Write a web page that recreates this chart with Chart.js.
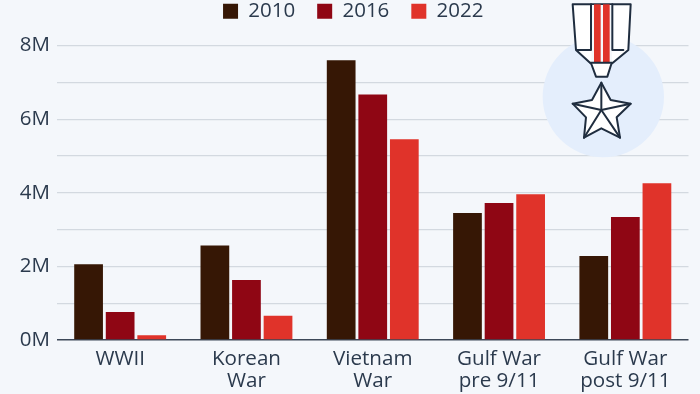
<!DOCTYPE html>
<html>
<head>
<meta charset="utf-8">
<script src="https://cdn.jsdelivr.net/npm/chart.js@4"></script>
<style>
  html, body { margin: 0; padding: 0; background: #f4f7fb; }
  #wrap { width: 700px; height: 394px; }
</style>
</head>
<body>
<div id="wrap"><canvas id="chart" width="700" height="394"></canvas></div>
<script>
const categories = [["WWII"], ["Korean", "War"], ["Vietnam", "War"], ["Gulf War", "pre 9/11"], ["Gulf War", "post 9/11"]];
const values2010 = [2060000, 2570000, 7600000, 3450000, 2280000];
const values2016 = [760000, 1630000, 6670000, 3720000, 3340000];
const values2022 = [130000, 660000, 5450000, 3960000, 4260000];
const yTickLabels = ["0M", "", "2M", "", "4M", "", "6M", "", "8M"];

const textColor = "#2b3a4d";
Chart.defaults.font.family = "'Open Sans', sans-serif";

// background circle and medal, coordinates are in 3x units of the corner crop
const medal = {
  id: "medal",
  beforeInit(chart) {
    const fit = chart.legend.fit;
    chart.legend.fit = function () {
      fit.call(this);
      this.height = 45.5;
    };
  },
  afterLayout(chart) {
    chart.legend.top = -21;
    chart.legend.left += 9;
    chart.legend.right += 9;
  },
  beforeDatasetsDraw(chart) {
    const ctx = chart.ctx;
    ctx.save();
    ctx.translate(520, 0);
    ctx.scale(1 / 3, 1 / 3);

    ctx.fillStyle = "#e4eefc";
    ctx.beginPath();
    ctx.arc(250, 290, 182, 0, Math.PI * 2);
    ctx.fill();

    ctx.lineJoin = "round";
    ctx.lineCap = "round";
    ctx.strokeStyle = "#1f2d3f";
    ctx.lineWidth = 6;
    ctx.fillStyle = "#ffffff";

    // ribbon
    poly(ctx, [[158, 13], [332, 13], [325, 150], [274, 192], [262, 230], [228, 230], [214, 192], [168, 150]], true, true);
    ctx.fillStyle = "#f6f8fb";
    ctx.fillRect(214, 15, 62, 173);
    ctx.fillStyle = "#e0332a";
    ctx.fillRect(222, 13, 20, 175);
    ctx.fillRect(249, 13, 20, 175);
    poly(ctx, [[213, 13], [213, 150], [170, 150]], false, true);
    poly(ctx, [[277, 13], [277, 150], [310, 150]], false, true);
    poly(ctx, [[212, 188], [276, 188]], false, true);

    // star
    const star = [[244, 248], [272, 300], [332, 311], [290, 352], [300, 413], [244, 385], [192, 413], [198, 352], [158, 311], [216, 300]];
    ctx.fillStyle = "#ffffff";
    poly(ctx, star, true, true);
    const hub = [244, 330];
    [0, 2, 4, 6, 8].forEach((i) => poly(ctx, [star[i], hub], false, true));
    ctx.restore();
  },
};

function poly(ctx, pts, close, stroke) {
  ctx.beginPath();
  pts.forEach((p, i) => (i ? ctx.lineTo(p[0], p[1]) : ctx.moveTo(p[0], p[1])));
  if (close) {
    ctx.closePath();
    ctx.fill();
  }
  if (stroke) ctx.stroke();
}

function barSet(label, data, color) {
  return {
    label: label,
    data: data,
    backgroundColor: color,
    borderWidth: 0,
    categoryPercentage: 0.75,
    barPercentage: 0.91,
  };
}

new Chart(document.getElementById("chart"), {
  type: "bar",
  data: {
    labels: categories,
    datasets: [
      barSet("2010", values2010, "#361705"),
      barSet("2016", values2016, "#8f0614"),
      barSet("2022", values2022, "#e0332a"),
    ],
  },
  options: {
    responsive: false,
    animation: false,
    layout: { padding: { right: 11.5 } },
    plugins: {
      tooltip: { enabled: false },
      legend: {
        position: "top",
        labels: {
          boxWidth: 15,
          boxHeight: 15,
          padding: 22,
          color: textColor,
          font: { size: 20.5 },
        },
      },
    },
    scales: {
      x: {
        grid: { display: false },
        border: { display: false },
        afterFit(axis) {
          axis.height = 54;
        },
        ticks: {
          color: textColor,
          padding: 0,
          maxRotation: 0,
          autoSkip: false,
          font: { size: 20.6, lineHeight: 1.07 },
        },
      },
      y: {
        min: 0,
        max: 8000000,
        afterFit(axis) {
          axis.width = 57;
        },
        border: { display: false },
        grid: {
          drawTicks: false,
          color: (c) => (c.tick.value === 0 ? "#3c4858" : "#d3d9e0"),
          lineWidth: (c) => (c.tick.value === 0 ? 1.5 : 1.2),
        },
        ticks: {
          stepSize: 1000000,
          autoSkip: false,
          color: textColor,
          padding: 7,
          font: { size: 20.5 },
          callback: (value, index) => yTickLabels[index],
        },
      },
    },
  },
  plugins: [medal],
});
</script>
</body>
</html>
